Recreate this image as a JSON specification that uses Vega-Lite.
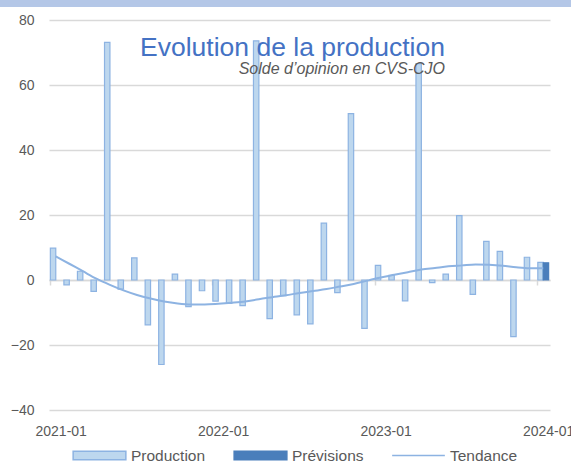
{
  "$schema": "https://vega.github.io/schema/vega-lite/v6.json",
  "width": 571,
  "height": 455,
  "autosize": {"type": "none"},
  "padding": {"left": 0, "top": 7, "right": 0, "bottom": 0},
  "background": "#b4c7e7",
  "config": {
    "font": "Liberation Sans",
    "view": {"stroke": null, "fill": "#ffffff"},
    "legend": {
      "orient": "none",
      "legendX": 72,
      "legendY": 421,
      "direction": "horizontal",
      "padding": 0,
      "symbolSize": 2777,
      "symbolStrokeWidth": 1.5,
      "symbolOpacity": 1,
      "labelFontSize": 15.5,
      "labelColor": "#595959",
      "labelOffset": 4,
      "columnPadding": 25
    }
  },
  "title": {
    "text": "Evolution de la production",
    "subtitle": "Solde d’opinion en CVS-CJO",
    "anchor": "end",
    "frame": "group",
    "dx": -126,
    "offset": -70,
    "fontSize": 26.5,
    "fontWeight": "normal",
    "color": "#4472c4",
    "subtitleFontSize": 16,
    "subtitleFontStyle": "italic",
    "subtitleColor": "#595959",
    "subtitlePadding": 0
  },
  "datasets": {
    "bars": [
      {"month": "2021-01", "series": "Production", "value": 9.8},
      {"month": "2021-02", "series": "Production", "value": -1.5},
      {"month": "2021-03", "series": "Production", "value": 2.7},
      {"month": "2021-04", "series": "Production", "value": -3.5},
      {"month": "2021-05", "series": "Production", "value": 73.1},
      {"month": "2021-06", "series": "Production", "value": -2.8},
      {"month": "2021-07", "series": "Production", "value": 6.8},
      {"month": "2021-08", "series": "Production", "value": -13.8},
      {"month": "2021-09", "series": "Production", "value": -26.0},
      {"month": "2021-10", "series": "Production", "value": 1.8},
      {"month": "2021-11", "series": "Production", "value": -8.2},
      {"month": "2021-12", "series": "Production", "value": -3.3},
      {"month": "2022-01", "series": "Production", "value": -6.5},
      {"month": "2022-02", "series": "Production", "value": -7.2},
      {"month": "2022-03", "series": "Production", "value": -7.9},
      {"month": "2022-04", "series": "Production", "value": 73.6},
      {"month": "2022-05", "series": "Production", "value": -11.9},
      {"month": "2022-06", "series": "Production", "value": -4.8},
      {"month": "2022-07", "series": "Production", "value": -10.7},
      {"month": "2022-08", "series": "Production", "value": -13.5},
      {"month": "2022-09", "series": "Production", "value": 17.5},
      {"month": "2022-10", "series": "Production", "value": -3.9},
      {"month": "2022-11", "series": "Production", "value": 51.2},
      {"month": "2022-12", "series": "Production", "value": -14.9},
      {"month": "2023-01", "series": "Production", "value": 4.5},
      {"month": "2023-02", "series": "Production", "value": 1.4},
      {"month": "2023-03", "series": "Production", "value": -6.4},
      {"month": "2023-04", "series": "Production", "value": 66.6},
      {"month": "2023-05", "series": "Production", "value": -0.8},
      {"month": "2023-06", "series": "Production", "value": 1.8},
      {"month": "2023-07", "series": "Production", "value": 19.8},
      {"month": "2023-08", "series": "Production", "value": -4.4},
      {"month": "2023-09", "series": "Production", "value": 11.9},
      {"month": "2023-10", "series": "Production", "value": 8.8},
      {"month": "2023-11", "series": "Production", "value": -17.4},
      {"month": "2023-12", "series": "Production", "value": 7.0},
      {"month": "2024-01", "series": "Production", "value": 5.4},
      {"month": "2024-01", "series": "Prévisions", "value": 5.3}
    ],
    "trend": [
      {"month": "2021-01", "series": "Tendance", "value": 7.3},
      {"month": "2021-02", "series": "Tendance", "value": 5.0},
      {"month": "2021-03", "series": "Tendance", "value": 2.7},
      {"month": "2021-04", "series": "Tendance", "value": 0.4},
      {"month": "2021-05", "series": "Tendance", "value": -1.5},
      {"month": "2021-06", "series": "Tendance", "value": -3.2},
      {"month": "2021-07", "series": "Tendance", "value": -4.6},
      {"month": "2021-08", "series": "Tendance", "value": -5.7},
      {"month": "2021-09", "series": "Tendance", "value": -6.6},
      {"month": "2021-10", "series": "Tendance", "value": -7.2},
      {"month": "2021-11", "series": "Tendance", "value": -7.5},
      {"month": "2021-12", "series": "Tendance", "value": -7.5},
      {"month": "2022-01", "series": "Tendance", "value": -7.3},
      {"month": "2022-02", "series": "Tendance", "value": -7.0},
      {"month": "2022-03", "series": "Tendance", "value": -6.6},
      {"month": "2022-04", "series": "Tendance", "value": -5.9},
      {"month": "2022-05", "series": "Tendance", "value": -5.3},
      {"month": "2022-06", "series": "Tendance", "value": -4.7},
      {"month": "2022-07", "series": "Tendance", "value": -4.0},
      {"month": "2022-08", "series": "Tendance", "value": -3.4},
      {"month": "2022-09", "series": "Tendance", "value": -2.8},
      {"month": "2022-10", "series": "Tendance", "value": -2.0},
      {"month": "2022-11", "series": "Tendance", "value": -1.2},
      {"month": "2022-12", "series": "Tendance", "value": -0.2},
      {"month": "2023-01", "series": "Tendance", "value": 0.8},
      {"month": "2023-02", "series": "Tendance", "value": 1.6},
      {"month": "2023-03", "series": "Tendance", "value": 2.4},
      {"month": "2023-04", "series": "Tendance", "value": 3.2},
      {"month": "2023-05", "series": "Tendance", "value": 3.7},
      {"month": "2023-06", "series": "Tendance", "value": 4.2},
      {"month": "2023-07", "series": "Tendance", "value": 4.5},
      {"month": "2023-08", "series": "Tendance", "value": 4.8},
      {"month": "2023-09", "series": "Tendance", "value": 4.7},
      {"month": "2023-10", "series": "Tendance", "value": 4.4},
      {"month": "2023-11", "series": "Tendance", "value": 3.9},
      {"month": "2023-12", "series": "Tendance", "value": 3.6},
      {"month": "2024-01", "series": "Tendance", "value": 3.6}
    ]
  },
  "encoding": {
    "x": {
      "field": "month",
      "type": "ordinal",
      "title": null,
      "scale": {"range": [49, 550], "paddingInner": 0.2, "paddingOuter": 0.1},
      "axis": {
        "values": ["2021-01", "2022-01", "2023-01", "2024-01"],
        "offset": -182,
        "bandPosition": 0,
        "labelOffset": 5.4,
        "labelAngle": 0,
        "labelAlign": "center",
        "labelPadding": 139,
        "labelFontSize": 14,
        "labelColor": "#595959",
        "domainColor": "#d9d9d9",
        "domainWidth": 1.5,
        "tickColor": "#d9d9d9",
        "tickWidth": 1.5,
        "tickSize": 5,
        "grid": false
      }
    },
    "y": {
      "field": "value",
      "type": "quantitative",
      "title": null,
      "scale": {"domain": [-40, 80], "nice": false, "zero": false, "range": [403, 13]},
      "axis": {
        "values": [-40, -20, 0, 20, 40, 60, 80],
        "offset": -49,
        "domain": false,
        "ticks": false,
        "labelPadding": 15,
        "labelFontSize": 14,
        "labelColor": "#595959",
        "gridColor": "#d9d9d9",
        "gridWidth": 1.3
      }
    }
  },
  "layer": [
    {
      "data": {"name": "bars"},
      "mark": {"type": "bar", "strokeWidth": 1.2},
      "encoding": {
        "xOffset": {
          "field": "series",
          "type": "nominal",
          "scale": {"domain": ["Production", "Prévisions"], "paddingInner": 0, "paddingOuter": 0}
        },
        "fill": {
          "field": "series",
          "type": "nominal",
          "title": null,
          "scale": {"domain": ["Production", "Prévisions", "Tendance"], "range": ["#bdd7ee", "#4a7ebb", "#ffffff"]}
        },
        "stroke": {
          "field": "series",
          "type": "nominal",
          "title": null,
          "scale": {"domain": ["Production", "Prévisions", "Tendance"], "range": ["#8db3e2", "#4a7ebb", "#8db3e2"]}
        }
      }
    },
    {
      "data": {"name": "trend"},
      "mark": {"type": "line", "interpolate": "monotone", "strokeWidth": 2},
      "encoding": {
        "stroke": {"field": "series", "type": "nominal", "title": null}
      }
    },
    {
      "data": {"name": "trend"},
      "transform": [{"filter": "false"}],
      "mark": {"type": "point", "filled": true, "opacity": 1},
      "encoding": {
        "fill": {"field": "series", "type": "nominal", "title": null},
        "stroke": {"field": "series", "type": "nominal", "title": null},
        "shape": {
          "field": "series",
          "type": "nominal",
          "title": null,
          "scale": {"domain": ["Production", "Prévisions", "Tendance"], "range": ["M-1,-0.165H1V0.165H-1Z", "M-1,-0.165H1V0.165H-1Z", "M-1,0H1"]}
        }
      }
    }
  ]
}
